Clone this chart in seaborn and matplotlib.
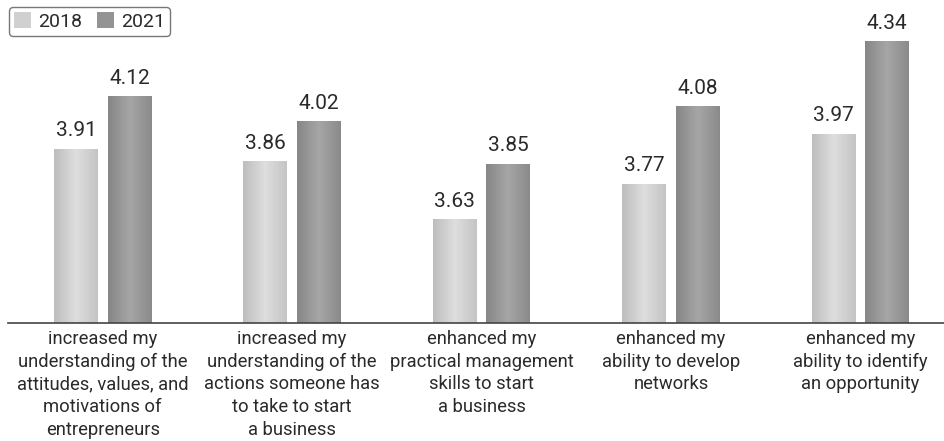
import numpy as np
import pandas as pd
import matplotlib
matplotlib.use("Agg")
import matplotlib.pyplot as plt
import seaborn as sns
from matplotlib.colors import LinearSegmentedColormap
from matplotlib.patches import Patch

categories = [
    "increased my\nunderstanding of the\nattitudes, values, and\nmotivations of\nentrepreneurs",
    "increased my\nunderstanding of the\nactions someone has\nto take to start\na business",
    "enhanced my\npractical management\nskills to start\na business",
    "enhanced my\nability to develop\nnetworks",
    "enhanced my\nability to identify\nan opportunity",
]
years = ["2018", "2021"]
values_2018 = [3.91, 3.86, 3.63, 3.77, 3.97]
values_2021 = [4.12, 4.02, 3.85, 4.08, 4.34]

df = pd.DataFrame({
    "category": categories * 2,
    "year": [years[0]] * 5 + [years[1]] * 5,
    "value": values_2018 + values_2021,
})

sns.set_theme(style="white")
plt.rcParams["font.family"] = ["Roboto", "DejaVu Sans"]

W, H = 944, 441
YMIN, YMAX = 3.215, 4.503
TXT = "#2a2a2a"
fig = plt.figure(figsize=(W / 100, H / 100), dpi=100)
ax = fig.add_axes([8 / W, 118 / H, 947 / W, 323 / H])

base_cols = {"2018": "#cfcfcf", "2021": "#979797"}
sns.barplot(data=df, x="category", y="value", hue="year", palette=base_cols,
            width=0.565, gap=0.18, ax=ax, legend=False, saturation=1,
            errorbar=None)

grad = {
    "2018": LinearSegmentedColormap.from_list("g18", ["#bdbdbd", "#dedede", "#c4c4c4"]),
    "2021": LinearSegmentedColormap.from_list("g21", ["#868686", "#a6a6a6", "#8a8a8a"]),
}
ramp = np.linspace(0, 1, 256).reshape(1, -1)

for cont, yr in zip(ax.containers, years):
    for bar in cont:
        x0, w = bar.get_x(), bar.get_width()
        h = bar.get_height()
        im = ax.imshow(ramp, cmap=grad[yr], aspect="auto",
                       extent=[x0, x0 + w, YMIN, h], zorder=bar.get_zorder(),
                       interpolation="bilinear")
        im.set_clip_path(bar)
        bar.set_facecolor("none")
        bar.set_edgecolor("none")
    ax.bar_label(cont, fmt="%.2f", padding=6, fontsize=15, color=TXT)

ax.set_xlim(-0.5, 4.5)
ax.set_ylim(YMIN, YMAX)

for s in ["top", "right", "left"]:
    ax.spines[s].set_visible(False)
ax.spines["bottom"].set_color("#444444")
ax.spines["bottom"].set_linewidth(1.2)
ax.set_yticks([])
ax.set_xlabel("")
ax.set_ylabel("")
ax.tick_params(axis="x", length=0, pad=5, labelsize=13.2, labelcolor=TXT)
for lab in ax.get_xticklabels():
    lab.set_horizontalalignment("center")
    lab.set_linespacing(1.33)

handles = [Patch(facecolor="#d0d0d0", edgecolor="none"),
           Patch(facecolor="#939393", edgecolor="none")]
leg = fig.legend(handles, years, loc="upper left", bbox_to_anchor=(9 / W, 1 - 7 / H),
                 borderaxespad=0, ncol=2, frameon=True,
                 prop={"size": 14}, labelcolor=TXT, handlelength=0.85,
                 handleheight=0.85, handletextpad=0.35, columnspacing=0.8,
                 borderpad=0.28, fancybox=True)
leg.get_frame().set_edgecolor("#555555")
leg.get_frame().set_linewidth(1.0)

fig.savefig("out.png", dpi=100)
